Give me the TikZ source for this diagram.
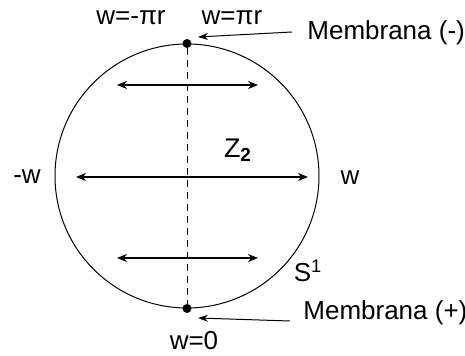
\documentclass[tikz,border=0pt]{standalone}
\usepackage{fontspec}
\setmainfont{Liberation Sans}
\usetikzlibrary{arrows.meta}
\begin{document}
\begin{tikzpicture}[x=0.5pt,y=-0.5pt,
  lbl/.style={font=\fontsize{13}{15}\selectfont, inner sep=0pt},
  dotnode/.style={circle,fill=black,inner sep=0pt,minimum size=4.5pt},
  dbl/.style={line width=0.6pt,{Stealth[length=5pt,width=4pt]}-{Stealth[length=5pt,width=4pt]}},
  ptr/.style={line width=0.5pt,-{Stealth[length=5pt,width=3.5pt]}}]
\useasboundingbox (0,0) rectangle (465,356);
\node[circle,draw,line width=0.5pt,minimum size=132pt,inner sep=0pt] (c) at (187,176) {};
\node[dotnode] (top) at (c.north) {};
\node[dotnode] (bot) at (c.south) {};
\draw[line width=0.5pt,dash pattern=on 3.5pt off 2.5pt] (top) -- (bot);
% arrows
\coordinate (a1l) at (117,85); \coordinate (a1r) at (258,85);
\coordinate (a2l) at (76,177); \coordinate (a2r) at (308,177);
\coordinate (a3l) at (117,258); \coordinate (a3r) at (258,258);
\draw[dbl] (a1l) -- (a1r);
\draw[dbl] (a2l) -- (a2r);
\draw[dbl] (a3l) -- (a3r);
% labels
\node[lbl] (wm) at (131,18) {w=-πr};
\node[lbl] (wp) at (232,18) {w=πr};
\node[lbl,anchor=west] (mm) at (307,33) {Membrana (-)};
\node[lbl,anchor=west] (mp) at (303,313) {Membrana (+)};
\node[lbl] (w0) at (194,341) {w=0};
\node[lbl] (lw) at (27,177) {-w};
\node[lbl] (rw) at (350,178) {w};
\node[lbl,font=\fontsize{13.5}{15}\selectfont] (z2) at (238,150) {Z\textsubscript{\textbf{2}}};
\node[lbl] (s1) at (308,271) {S\textsuperscript{1}};
\coordinate (tm) at (198,37);
\coordinate (tp) at (198,318);
\draw[ptr] (292,32) -- (tm);
\draw[ptr] (290,321) -- (tp);
\end{tikzpicture}
\end{document}
